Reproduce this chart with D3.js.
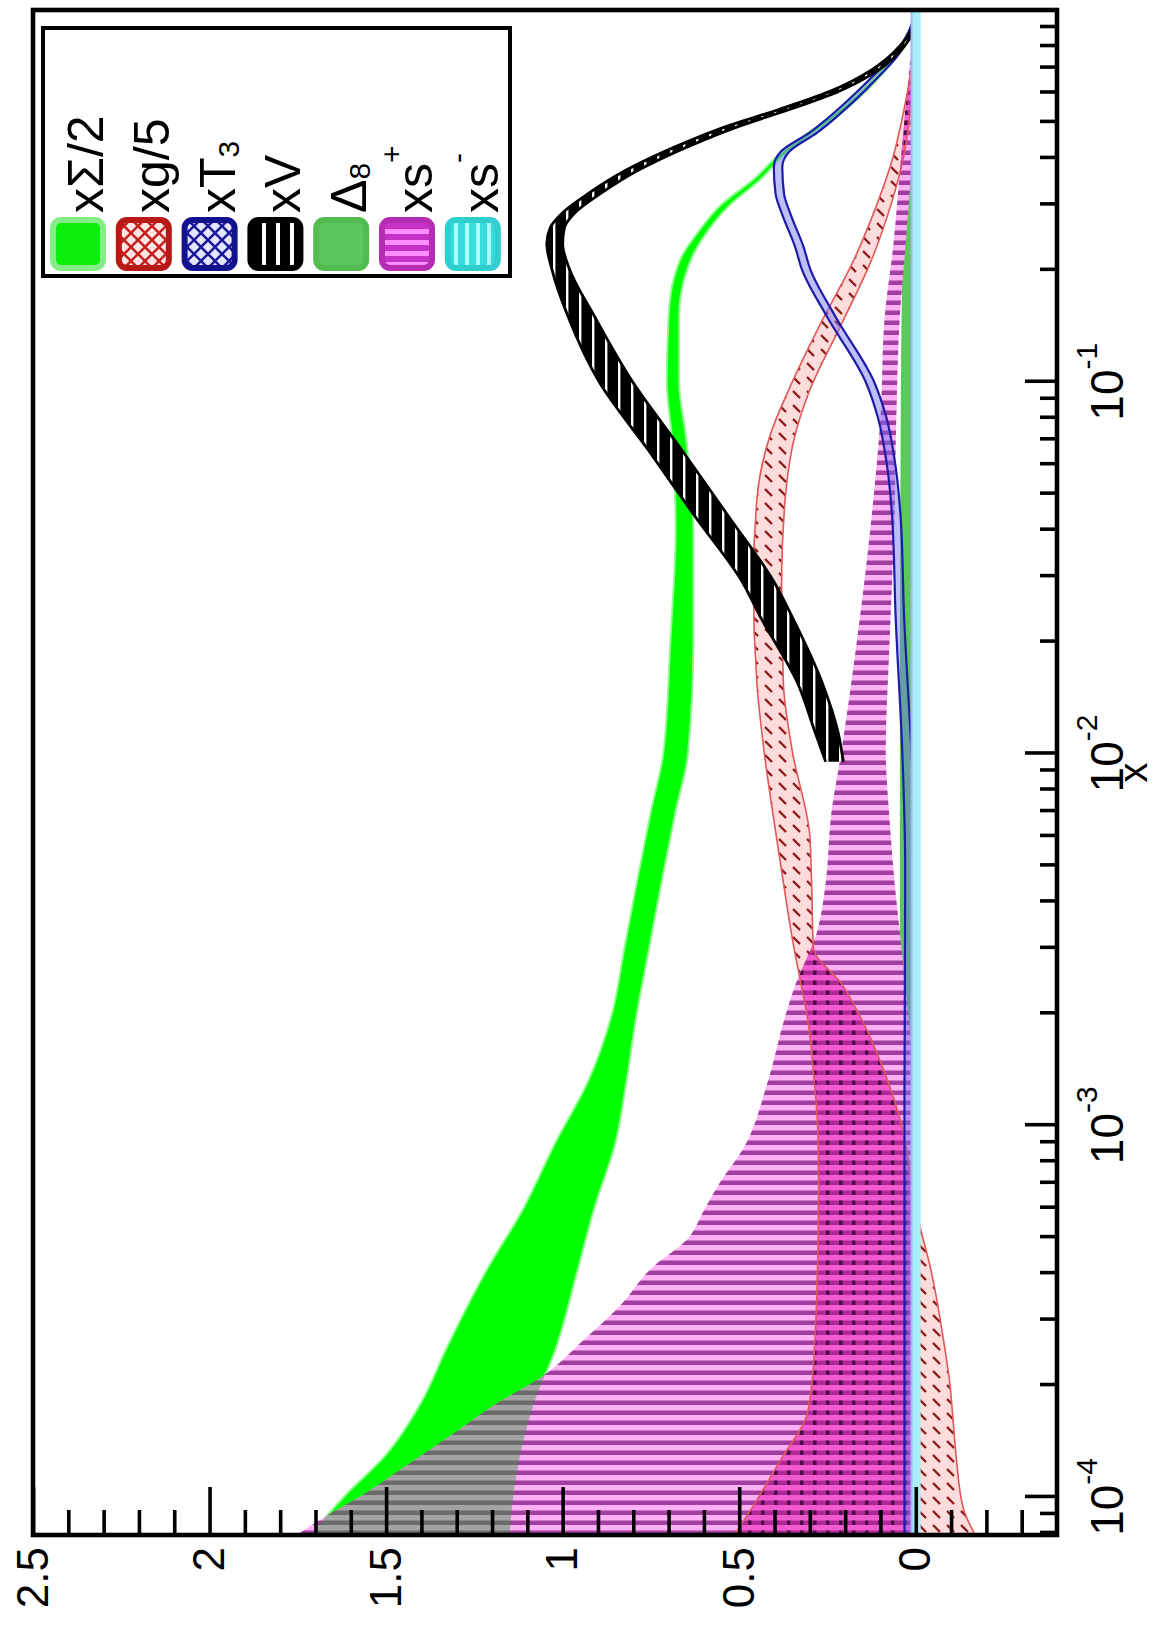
<!DOCTYPE html>
<html>
<head>
<meta charset="utf-8">
<script src="https://cdn.jsdelivr.net/npm/d3@7"></script>
<style>
  html, body { margin: 0; padding: 0; background: #ffffff; }
  svg text { font-family: "Liberation Sans", Arial, Helvetica, sans-serif; }
</style>
</head>
<body>
<svg id="chart" width="1159" height="1641"></svg>
<script>
// ---------- data: uncertainty bands (x, lower edge, upper edge) ----------
// x Sigma / 2
const sigmaX  = [8e-5, 1e-4, 1.3e-4, 1.8e-4, 2.5e-4, 4e-4, 6e-4, 9e-4, 1.3e-3, 2e-3, 3e-3, 4.5e-3, 7e-3, 0.01, 0.02, 0.04, 0.07, 0.1, 0.15, 0.19, 0.22, 0.25, 0.3, 0.35, 0.41, 0.47, 0.57, 0.75, 0.88, 1];
const sigmaLo = [1.15, 1.14, 1.12, 1.08, 1.02, 0.96, 0.91, 0.85, 0.82, 0.79, 0.755, 0.72, 0.68, 0.645, 0.63, 0.63, 0.65, 0.67, 0.67, 0.655, 0.63, 0.595, 0.525, 0.44, 0.37, 0.285, 0.17, 0.055, 0.01, 0];
const sigmaHi = [1.71, 1.62, 1.50, 1.40, 1.33, 1.22, 1.11, 1.02, 0.93, 0.86, 0.825, 0.79, 0.75, 0.715, 0.695, 0.68, 0.69, 0.705, 0.70, 0.685, 0.66, 0.62, 0.55, 0.46, 0.385, 0.30, 0.185, 0.065, 0.018, 0];

// x g / 5
const gluonX  = [8e-5, 9.3e-5, 1.27e-4, 1.64e-4, 2e-4, 2.7e-4, 3.5e-4, 4.2e-4, 5.2e-4, 7e-4, 1e-3, 1.4e-3, 1.9e-3, 2.4e-3, 3e-3, 4.5e-3, 6e-3, 0.0102, 0.0155, 0.0288, 0.0482, 0.073, 0.095, 0.14, 0.213, 0.3, 0.4, 0.53, 0.7, 1];
const gluonLo = [-0.165, -0.135, -0.115, -0.105, -0.097, -0.077, -0.057, -0.04, -0.015, 0.01, 0.04, 0.09, 0.15, 0.21, 0.29, 0.295, 0.30, 0.35, 0.375, 0.38, 0.37, 0.34, 0.30, 0.215, 0.125, 0.07, 0.035, 0.015, 0.0, 0];
const gluonHi = [0.51, 0.465, 0.38, 0.31, 0.295, 0.285, 0.28, 0.278, 0.276, 0.275, 0.278, 0.29, 0.305, 0.325, 0.345, 0.375, 0.395, 0.43, 0.45, 0.46, 0.45, 0.41, 0.36, 0.275, 0.175, 0.11, 0.065, 0.035, 0.012, 0];

// x T3
const t3X  = [8e-5, 1e-3, 5e-3, 0.01, 0.0233, 0.0434, 0.06, 0.08, 0.1, 0.15, 0.2, 0.231, 0.28, 0.32, 0.378, 0.416, 0.468, 0.574, 0.66, 0.749, 0.88, 1];
const t3Lo = [-0.005, -0.005, -0.001, 0.012, 0.033, 0.043, 0.058, 0.083, 0.118, 0.228, 0.298, 0.318, 0.353, 0.373, 0.378, 0.358, 0.279, 0.17, 0.106, 0.053, 0.011, 0];
const t3Hi = [0.032, 0.032, 0.03, 0.038, 0.057, 0.067, 0.082, 0.107, 0.142, 0.252, 0.322, 0.342, 0.377, 0.397, 0.402, 0.382, 0.301, 0.19, 0.124, 0.067, 0.019, 0];

// x V
const valX  = [0.0095, 0.0114, 0.0155, 0.0233, 0.0288, 0.0434, 0.066, 0.0993, 0.15, 0.2, 0.235, 0.26, 0.285, 0.322, 0.371, 0.429, 0.485, 0.539, 0.603, 0.69, 0.8, 0.885, 1];
const valLo = [0.205, 0.22, 0.265, 0.35, 0.40, 0.53, 0.665, 0.80, 0.91, 0.98, 1.0, 0.995, 0.965, 0.89, 0.785, 0.645, 0.505, 0.36, 0.22, 0.105, 0.032, 0.005, 0];
const valHi = [0.255, 0.285, 0.335, 0.44, 0.49, 0.625, 0.76, 0.895, 0.985, 1.03, 1.045, 1.035, 1.0, 0.925, 0.82, 0.68, 0.54, 0.39, 0.245, 0.125, 0.045, 0.013, 0];

// Delta 8
const d8X  = [8e-5, 0.01, 0.1, 0.2, 0.3, 0.45, 0.6, 0.8, 1];
const d8Lo = [0.004, 0.004, 0.004, 0.003, 0.002, 0.001, 0, 0, 0];
const d8Hi = [0.045, 0.045, 0.042, 0.038, 0.033, 0.026, 0.018, 0.008, 0];

// x s+
const splusX  = [8e-5, 9e-5, 1e-4, 1.2e-4, 1.5e-4, 1.8e-4, 2.07e-4, 2.7e-4, 3.25e-4, 4.15e-4, 4.9e-4, 5.9e-4, 7e-4, 8.6e-4, 1.3e-3, 1.96e-3, 2.4e-3, 3.3e-3, 4.5e-3, 6.8e-3, 0.0102, 0.019, 0.0434, 0.08, 0.15, 0.226, 0.42, 0.73, 1];
const splusLo = [0, 0, 0, 0, 0, 0, 0, 0, 0, 0, 0.002, 0.003, 0.004, 0.005, 0.008, 0.02, 0.03, 0.045, 0.06, 0.075, 0.085, 0.075, 0.06, 0.055, 0.045, 0.03, 0.01, 0.003, 0];
const splusHi = [1.745, 1.66, 1.575, 1.45, 1.30, 1.18, 1.07, 0.93, 0.84, 0.745, 0.65, 0.60, 0.555, 0.49, 0.42, 0.37, 0.34, 0.28, 0.255, 0.24, 0.21, 0.17, 0.125, 0.10, 0.088, 0.065, 0.04, 0.016, 0];

// x s-
const sminusX  = [8e-5, 0.01, 1];
const sminusLo = [-0.014, -0.014, -0.014];
const sminusHi = [0.012, 0.012, 0.012];

// axis ticks and legend text
const yTickValues = [0, 0.5, 1, 1.5, 2, 2.5];
const yTickLabels = ["0", "0.5", "1", "1.5", "2", "2.5"];
const xTickValues = [1e-4, 1e-3, 1e-2, 1e-1];
const xTickExponents = ["-4", "-3", "-2", "-1"];
const legendNames   = ["x\u03A3/2", "xg/5", "xT", "xV", "\u0394", "xs", "xs"];
const legendScripts = ["", "", "3", "", "8", "+", "-"];
const legendScriptKind = ["", "", "sub", "", "sub", "sup", "sup"];

// ---------- layout (drawn in landscape frame, then turned a quarter turn) ----------
const W = 1525, H = 1024;
const x = d3.scaleLog().domain([7.9e-5, 1]).range([0, W]);
const y = d3.scaleLinear().domain([-0.4, 2.5]).range([H, 0]);

const svg = d3.select("#chart");
svg.append("rect").attr("width", 1159).attr("height", 1641).attr("fill", "#ffffff");
const defs = svg.append("defs");

function pattern(id, w, h) {
  return defs.append("pattern").attr("id", id)
    .attr("patternUnits", "userSpaceOnUse").attr("width", w).attr("height", h);
}
let p;
p = pattern("hatch-splus", 10, 10);
p.append("rect").attr("width", 10).attr("height", 10).attr("fill", "#ffb0f6");
p.append("rect").attr("width", 4.5).attr("height", 10).attr("fill", "#a23e9f");

p = pattern("hatch-grey", 10, 10);
p.append("rect").attr("width", 10).attr("height", 10).attr("fill", "#a3a3a3");
p.append("rect").attr("width", 4.5).attr("height", 10).attr("fill", "#6b6b6b");

p = pattern("hatch-pink", 10, 13);
p.append("rect").attr("width", 10).attr("height", 13).attr("fill", "#f25bd0");
p.append("rect").attr("width", 4.5).attr("height", 13).attr("fill", "#b02898");
p.append("rect").attr("width", 4.5).attr("height", 3.5).attr("fill", "#4c0c46");

p = pattern("hatch-gluon", 14, 14);
p.append("rect").attr("width", 14).attr("height", 14).attr("fill", "#ffdcdc");
p.append("path").attr("d", "M3,11L10,4").attr("stroke", "#8d1b1b").attr("stroke-width", 2.4);

p = pattern("hatch-valence", 13, 13);
p.append("rect").attr("width", 13).attr("height", 13).attr("fill", "#000000");
p.append("rect").attr("width", 13).attr("height", 2.4).attr("fill", "#ffffff");

// legend swatch fills
p = pattern("leg-gluon", 14, 14);
p.append("rect").attr("width", 14).attr("height", 14).attr("fill", "#ffe4e4");
p.append("path").attr("d", "M0,0L14,14M14,0L0,14").attr("stroke", "#c42020").attr("stroke-width", 2.6);

p = pattern("leg-t3", 14, 14);
p.append("rect").attr("width", 14).attr("height", 14).attr("fill", "#e4e6ff");
p.append("path").attr("d", "M0,0L14,14M14,0L0,14").attr("stroke", "#1a1a9a").attr("stroke-width", 2.6);

p = pattern("leg-valence", 14, 14);
p.append("rect").attr("width", 14).attr("height", 14).attr("fill", "#000000");
p.append("rect").attr("y", 5).attr("width", 14).attr("height", 4).attr("fill", "#ffffff");

p = pattern("leg-splus", 11, 11);
p.append("rect").attr("width", 11).attr("height", 11).attr("fill", "#c632c6");
p.append("rect").attr("x", 3).attr("width", 5).attr("height", 11).attr("fill", "#ff8cff");

p = pattern("leg-sminus", 11, 11);
p.append("rect").attr("width", 11).attr("height", 11).attr("fill", "#38dcdc");
p.append("rect").attr("y", 3).attr("width", 11).attr("height", 4).attr("fill", "#aaffff");

const rows = (xs, lo, hi) => xs.map((v, i) => ({ x: v, lo: lo[i], hi: hi[i] }));
const sigma  = rows(sigmaX, sigmaLo, sigmaHi);
const gluon  = rows(gluonX, gluonLo, gluonHi);
const t3     = rows(t3X, t3Lo, t3Hi);
const val    = rows(valX, valLo, valHi);
const d8     = rows(d8X, d8Lo, d8Hi);
const splus  = rows(splusX, splusLo, splusHi);
const sminus = rows(sminusX, sminusLo, sminusHi);

const area = d3.area().x(d => x(d.x)).y0(d => y(d.lo)).y1(d => y(d.hi)).curve(d3.curveMonotoneX);
const loLine = d3.line().x(d => x(d.x)).y(d => y(d.lo)).curve(d3.curveMonotoneX);
const hiLine = d3.line().x(d => x(d.x)).y(d => y(d.hi)).curve(d3.curveMonotoneX);

defs.append("clipPath").attr("id", "clip-plot").append("rect").attr("width", W).attr("height", H);
defs.append("clipPath").attr("id", "clip-sigma").append("path").attr("d", area(sigma));
defs.append("clipPath").attr("id", "clip-splus").append("path").attr("d", area(splus));

const g = svg.append("g").attr("transform", "translate(33,1535) rotate(-90)");
const plot = g.append("g").attr("clip-path", "url(#clip-plot)");

function edges(data, color, width) {
  plot.append("path").attr("d", loLine(data)).attr("fill", "none").attr("stroke", color).attr("stroke-width", width);
  plot.append("path").attr("d", hiLine(data)).attr("fill", "none").attr("stroke", color).attr("stroke-width", width);
}

// x Sigma/2
plot.append("path").attr("d", area(sigma)).attr("fill", "#00ff00")
  .attr("stroke", "#8cff8c").attr("stroke-width", 2);
// Delta 8
plot.append("path").attr("d", area(d8)).attr("fill", "#5cc85c");
// x s+
plot.append("path").attr("d", area(splus)).attr("fill", "url(#hatch-splus)");
// overlap of x s+ with x Sigma/2
plot.append("path").attr("d", area(splus)).attr("fill", "url(#hatch-grey)")
  .attr("clip-path", "url(#clip-sigma)");
// x g/5
plot.append("path").attr("d", area(gluon)).attr("fill", "url(#hatch-gluon)");
plot.append("path").attr("d", area(gluon)).attr("fill", "url(#hatch-pink)")
  .attr("clip-path", "url(#clip-splus)");
edges(gluon, "#e05858", 1.6);
// x T3
plot.append("path").attr("d", area(t3)).attr("fill", "#6e6ef0").attr("fill-opacity", 0.45);
edges(t3, "#1c1ca8", 2.2);
// x V
plot.append("path").attr("d", area(val)).attr("fill", "url(#hatch-valence)");
edges(val, "#000000", 2.8);
// x s-
plot.append("path").attr("d", area(sminus)).attr("fill", "#a6eefa");
plot.append("path").attr("d", hiLine(sminus)).attr("fill", "none").attr("stroke", "#a8b4ff").attr("stroke-width", 2);

// ---------- axes ----------
const minorX = x.ticks().filter(v => !xTickValues.some(m => Math.abs(v - m) / m < 1e-6) && v < 0.999);
const minorY = y.ticks(29).filter(v => Math.abs(v * 2 - Math.round(v * 2)) > 1e-6 && v > -0.35);

function styleAxis(sel) {
  sel.select(".domain").remove();
  sel.selectAll(".tick line").attr("stroke", "#000").attr("stroke-width", 3.6);
}
g.append("g").attr("transform", `translate(0,${H})`)
  .call(d3.axisBottom(x).tickValues(minorX).tickSize(-17).tickFormat(""))
  .call(styleAxis);
g.append("g").attr("transform", `translate(0,${H})`)
  .call(d3.axisBottom(x).tickValues(xTickValues).tickSize(-32).tickFormat(""))
  .call(styleAxis);
g.append("g")
  .call(d3.axisLeft(y).tickValues(minorY).tickSize(-25).tickFormat(""))
  .call(styleAxis);
const yAxis = g.append("g")
  .call(d3.axisLeft(y).tickValues(yTickValues).tickSize(-48).tickPadding(12)
    .tickFormat((d, i) => yTickLabels[i]))
  .call(styleAxis);
yAxis.attr("font-size", 44).attr("font-family", null);
yAxis.selectAll(".tick text").attr("fill", "#000");

// decade labels 10^n
xTickValues.forEach((v, i) => {
  const t = g.append("text").attr("x", x(v)).attr("y", H + 66)
    .attr("text-anchor", "middle").attr("font-size", 46).attr("fill", "#000");
  t.append("tspan").text("10");
  t.append("tspan").attr("font-size", 30).attr("dy", -26).text(xTickExponents[i]);
});
g.append("text").attr("x", W / 2).attr("y", H + 90).attr("text-anchor", "middle")
  .attr("font-size", 40).attr("fill", "#000").text("x");

// frame
g.append("rect").attr("width", W).attr("height", H).attr("fill", "none")
  .attr("stroke", "#000").attr("stroke-width", 4.6);

// ---------- legend ----------
const swatchFill   = ["#0af00a", "url(#leg-gluon)", "url(#leg-t3)", "url(#leg-valence)", "#5ac85a", "url(#leg-splus)", "url(#leg-sminus)"];
const swatchStroke = ["#86ec86", "#b81818", "#12128f", "#000000", "#52bc52", "#b52db5", "#2fcfcf"];
const legend = g.append("g");
legend.append("rect").attr("x", 1259).attr("y", 10).attr("width", 248).attr("height", 467)
  .attr("fill", "#fff").attr("stroke", "#000").attr("stroke-width", 4);
legendNames.forEach((name, i) => {
  const top = 18 + i * 65.8;
  legend.append("rect").attr("x", 1267).attr("y", top + 2).attr("width", 48).attr("height", 50)
    .attr("rx", 8).attr("fill", swatchFill[i]).attr("stroke", swatchStroke[i]).attr("stroke-width", 6);
  const t = legend.append("text").attr("x", 1322).attr("y", top + 52)
    .attr("font-size", 50).attr("fill", "#000");
  t.append("tspan").text(name);
  if (legendScripts[i]) {
    const kind = legendScriptKind[i];
    t.append("tspan").attr("font-size", 30)
      .attr("dy", kind === "sub" ? 4 : -30)
      .text(legendScripts[i]);
  }
});
</script>
</body>
</html>
